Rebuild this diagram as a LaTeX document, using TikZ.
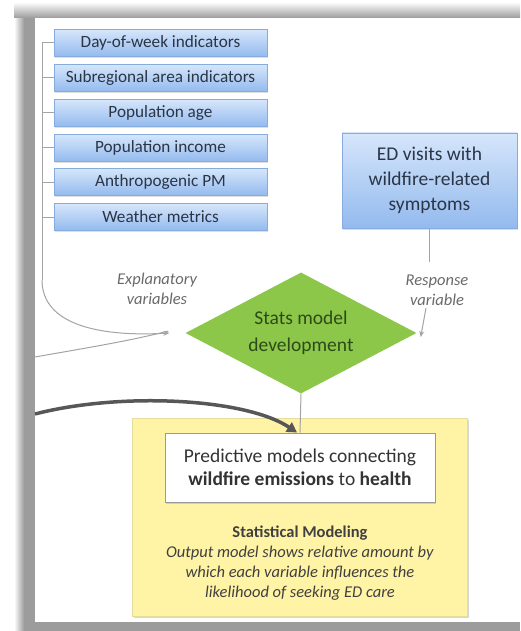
\documentclass[tikz,border=0pt]{standalone}
\usepackage{fontspec}
\setmainfont{Carlito}
\usetikzlibrary{shapes.geometric,arrows.meta,shadows}
\definecolor{bluetop}{HTML}{D6E6FB}
\definecolor{bluebot}{HTML}{93BAEE}
\definecolor{blueborder}{HTML}{86ABDD}
\definecolor{vartext}{HTML}{2A3546}
\definecolor{greenfill}{HTML}{8CC74A}
\definecolor{greentext}{HTML}{2C4A18}
\definecolor{yellowfill}{HTML}{FFF3A6}
\definecolor{connc}{HTML}{A4A4A4}
\definecolor{thickc}{HTML}{575757}
\definecolor{labelc}{HTML}{6A6A6A}
\definecolor{framec}{HTML}{9C9C9C}
\begin{document}
\begin{tikzpicture}[x=1pt,y=-1pt,
  varbox/.style={draw=blueborder, top color=bluetop, bottom color=bluebot,
    minimum width=213pt, minimum height=27pt, inner sep=0pt,
    font=\fontsize{17.2}{19}\selectfont, text=vartext,
    drop shadow={shadow xshift=1pt, shadow yshift=-1.5pt, opacity=0.25}},
  edbox/.style={draw=blueborder, top color=bluetop, bottom color=bluebot,
    minimum width=175pt, minimum height=95pt, inner sep=0pt, align=center,
    font=\fontsize{19.5}{25}\selectfont, text=vartext,
    drop shadow={shadow xshift=1pt, shadow yshift=-1.5pt, opacity=0.25}},
  dia/.style={diamond, fill=greenfill, minimum width=231pt, minimum height=121pt,
    inner sep=0pt, aspect=1.9, align=center, text=greentext,
    font=\fontsize{19.5}{27}\selectfont},
  lbl/.style={align=center, text=labelc, font=\fontsize{16.5}{20}\selectfont\itshape,
    fill=white, inner sep=1pt},
  conn/.style={draw=connc, line width=1pt},
  arr/.style={-{Stealth[length=6pt,width=5pt]}},
  ybox/.style={fill=yellowfill, draw=yellowfill!80!gray, minimum width=335pt,
    minimum height=198pt, inner sep=0pt,
    drop shadow={shadow xshift=1.5pt, shadow yshift=-2pt, opacity=0.3}},
  wbox/.style={fill=white, draw=gray!80, line width=1pt, minimum width=270pt,
    minimum height=69pt, inner sep=0pt, align=center, text=black!80,
    font=\fontsize{19.5}{22.5}\selectfont,
    drop shadow={shadow xshift=1pt, shadow yshift=-1.5pt, opacity=0.3}},
  stxt/.style={align=center, text=black!75, font=\fontsize{16.5}{20}\selectfont}
]
\useasboundingbox (0,0) rectangle (520,631);
% frame
\fill[white] (0,0) rectangle (520,631);
\shade[top color=white, bottom color=framec] (26,2) rectangle (520,18);
\shade[left color=white, right color=framec] (14,18) rectangle (24,631);
\fill[framec] (24,18) rectangle (35,631);
\shade[left color=white, right color=framec, shading angle=0] (14,2) rectangle (26,18);
\fill[framec] (24,622) rectangle (520,631);
\fill[white] (35,18) rectangle (520,622);

% left variable boxes
\node[varbox] (v1) at (160.5,43) {Day-of-week indicators};
\node[varbox] (v2) at (160.5,78) {Subregional area indicators};
\node[varbox] (v3) at (160.5,113) {Population age};
\node[varbox] (v4) at (160.5,148) {Population income};
\node[varbox] (v5) at (160.5,182) {Anthropogenic PM};
\node[varbox] (v6) at (160.5,217) {Weather metrics};

% response box
\node[edbox] (ed) at (429.5,180.5) {ED visits with\\wildfire-related\\symptoms};

% diamond
\node[dia] (sm) at (301,333) {Stats model\\development};

% yellow box and content
\node[ybox] (yb) at (299.5,517) {};
\node[wbox] (pm) at (300,467.5) {\raisebox{-2pt}{Predictive models connecting}\\\raisebox{-2pt}{\textbf{wildfire emissions} to \textbf{health}}};
\node[stxt] (st) at (300,563) {\textbf{Statistical Modeling}\\\textit{Output model shows relative amount by}\\\textit{which each variable influences the}\\\textit{likelihood of seeking ED care}};

% bracket of explanatory variables
\coordinate (bt) at (42,43);
\coordinate (bb) at (42,280);
\draw[conn] (bt) -- (bb);
\foreach \v in {v1,v2,v3,v4,v5,v6}{
  \draw[conn] (\v.west -| bt) -- (\v.west);
}
\draw[conn, arr] (bb) .. controls (42,325) and (100,337) .. ([xshift=-16pt]sm.west);
\coordinate (lin) at (35,357);
\draw[conn] (lin) .. controls (80,349) and (130,341) .. ([xshift=-17pt,yshift=2pt]sm.west);

% labels
\node[lbl] (ex) at (157,289) {Explanatory\\variables};

% response connector
\coordinate (r1) at (429.5,262);
\coordinate (r2) at (426,308);
\draw[conn] (ed.south) -- (r1);
\node[lbl] (rv) at (437,290) {Response\\variable};
\draw[conn, arr] (r2) -- ([shift={(4pt,-4pt)}]sm.east);

% diamond to output
\draw[conn] (sm.south) -- (pm.north);

% thick arrow from left
\coordinate (tk) at (35,414);
\draw[draw=thickc, line width=3.5pt, -{Triangle[length=10pt,width=11pt]}]
  (tk) .. controls (120,392) and (245,398) .. ([xshift=-3pt]pm.north);
\end{tikzpicture}
\end{document}
